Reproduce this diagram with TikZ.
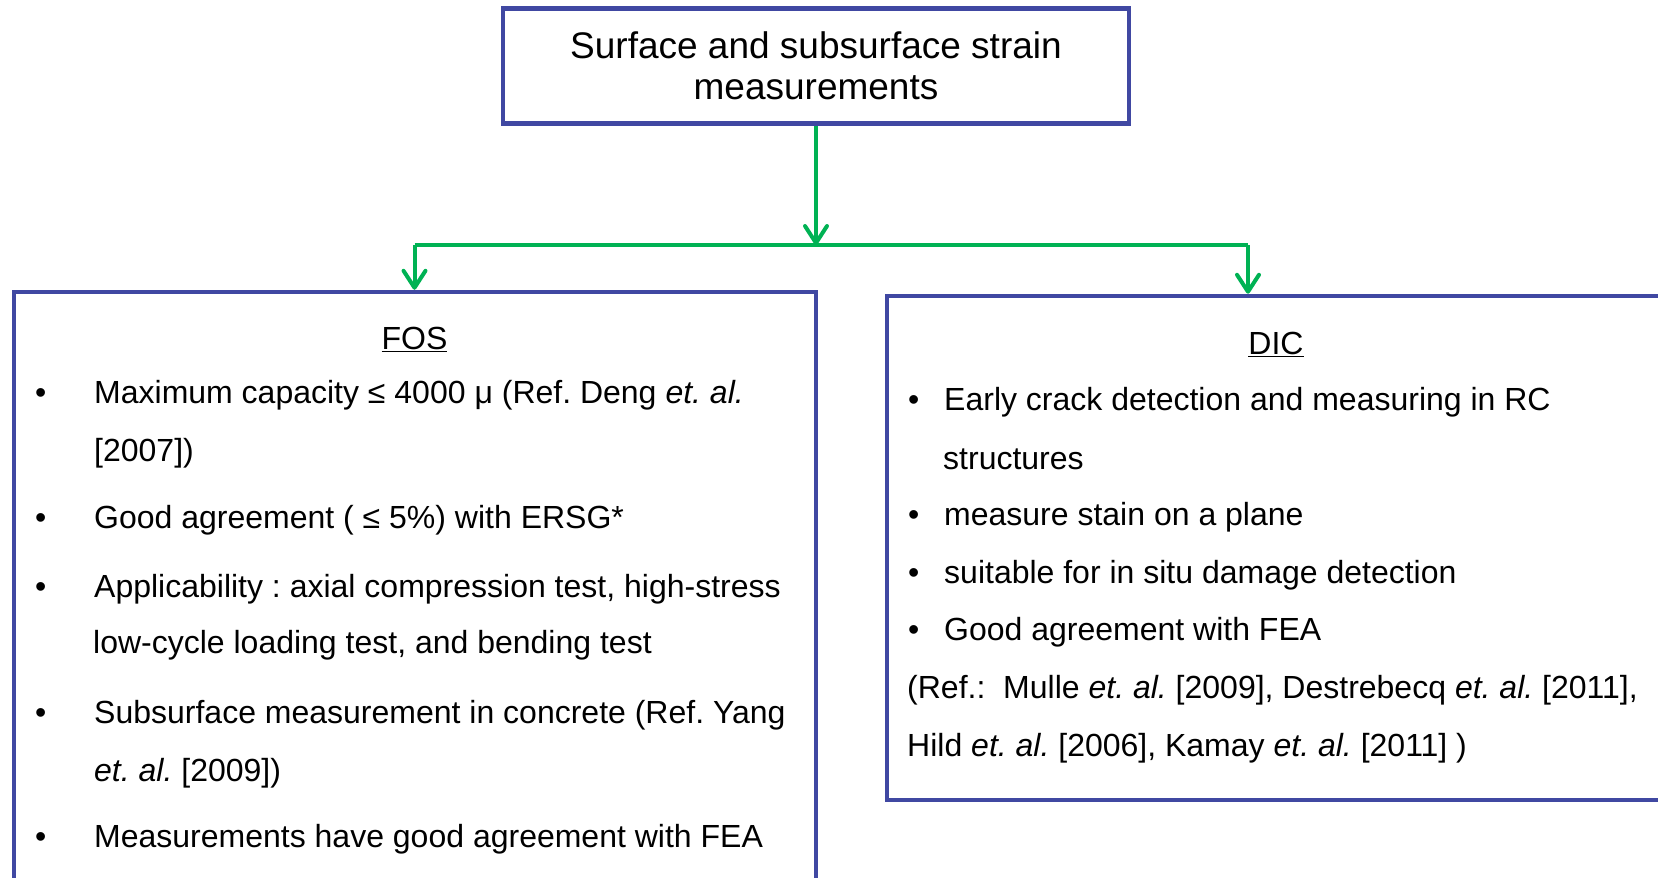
\documentclass[tikz,border=0pt]{standalone}
\usepackage{fontspec}
\setmainfont{Liberation Sans}
\usetikzlibrary{arrows.meta}
\definecolor{boxblue}{RGB}{64,72,162}
\definecolor{linkgreen}{RGB}{0,178,84}
\frenchspacing
\begin{document}
\begin{tikzpicture}[x=1pt,y=-1pt,
  panel/.style={draw=boxblue, line width=4.5pt, fill=white, rectangle, inner sep=0pt},
  link/.style={draw=linkgreen, line width=4pt},
  tip/.style={-{Straight Barb[length=17pt,width=22pt,round]}},
  txt/.style={anchor=base west, inner sep=0pt, font=\fontsize{32}{38}\selectfont},
  head/.style={anchor=base, inner sep=0pt, font=\fontsize{32}{38}\selectfont},
  dot/.style={anchor=base west, inner sep=0pt, font=\fontsize{32}{38}\selectfont}]
\useasboundingbox (0,0) rectangle (1658,878);
\clip (0,0) rectangle (1658,878);

% boxes
\node[panel, minimum width=626pt, minimum height=115pt, align=center,
      font=\fontsize{37}{41.5}\selectfont] (top) at (816,66)
  {Surface and subsurface strain\\measurements};
\node[panel, minimum width=802pt, minimum height=592pt] (fos) at (415,588) {};
\node[panel, minimum width=800pt, minimum height=504pt] (dic) at (1287,548) {};

% connectors
\coordinate (j) at (816,245);
\coordinate (jl) at (414.5,245);
\coordinate (jr) at (1248,245);
\draw[link, tip] (top.south) -- (j);
\draw[link] (jl) -- (jr);
\draw[link, tip] (jl) -- (jl |- fos.north);
\draw[link, tip] (jr) -- (jr |- dic.north);

% FOS panel
\node[head] (fosh) at (414.5,349) {\underline{FOS}};
\node[dot] (fb1) at (35,403) {•};
\node[txt] (f1) at (94,403) {Maximum capacity ≤ 4000 μ (Ref. Deng \textit{et. al.}};
\node[txt] (f1b) at (94,461) {[2007])};
\node[dot] (fb2) at (35,528) {•};
\node[txt] (f2) at (94,528) {Good agreement ( ≤ 5\%) with ERSG*};
\node[dot] (fb3) at (35,597) {•};
\node[txt] (f3) at (94,597) {Applicability : axial compression test, high-stress};
\node[txt] (f3b) at (93,653) {low-cycle loading test, and bending test};
\node[dot] (fb4) at (35,723) {•};
\node[txt] (f4) at (94,723) {Subsurface measurement in concrete (Ref. Yang};
\node[txt] (f4b) at (94,781) {\textit{et. al.} [2009])};
\node[dot] (fb5) at (35,847) {•};
\node[txt] (f5) at (94,847) {Measurements have good agreement with FEA};

% DIC panel
\node[head] (dich) at (1276,354) {\underline{DIC}};
\node[dot] (db1) at (908,410) {•};
\node[txt] (d1) at (944,410) {Early crack detection and measuring in RC};
\node[txt] (d1b) at (943,469) {structures};
\node[dot] (db2) at (908,525) {•};
\node[txt] (d2) at (944,525) {measure stain on a plane};
\node[dot] (db3) at (908,583) {•};
\node[txt] (d3) at (944,583) {suitable for in situ damage detection};
\node[dot] (db4) at (908,640) {•};
\node[txt] (d4) at (944,640) {Good agreement with FEA};
\node[txt] (d5) at (907,698) {(Ref.:\ \ Mulle \textit{et. al.} [2009], Destrebecq \textit{et. al.} [2011],};
\node[txt] (d6) at (907,756) {Hild \textit{et. al.} [2006], Kamay \textit{et. al.} [2011] )};
\end{tikzpicture}
\end{document}
